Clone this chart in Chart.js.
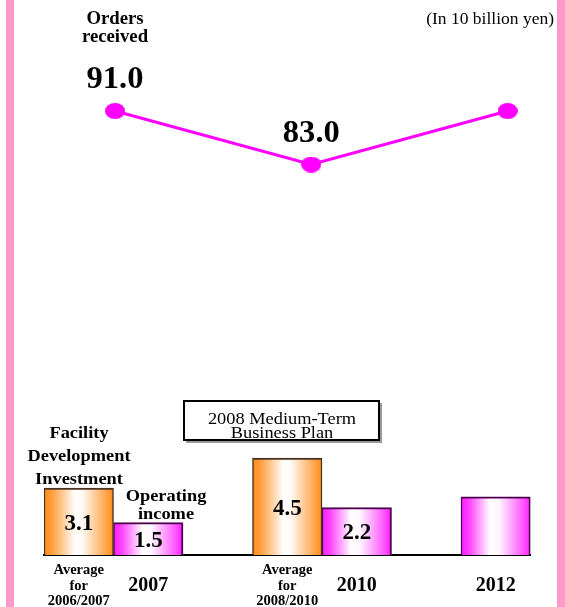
<!DOCTYPE html>
<html>
<head>
<meta charset="utf-8">
<title>Orders received / Facility Development Investment / Operating income</title>
<script src="https://cdn.jsdelivr.net/npm/chart.js"></script>
<style>
  html, body { margin: 0; padding: 0; background: #fff; }
  #wrap { position: relative; width: 565px; height: 607px; }
</style>
</head>
<body>
<div id="wrap"><canvas id="plan"></canvas></div>
<script>
// Orders received (in 10 billion yen): 2007, 2010, 2012
const orderPoints = [0, 1, 2];
const orderValues = [91.0, 83.0, 91.0];
const orderShowValue = [true, true, false];

// Bottom axis slots; the empty strings are spacers between periods
const slotLabels = [['Average', 'for', '2006/2007'], '2007', '', ['Average', 'for', '2008/2010'], '2010', '', '2012'];
const facilityValues = [3.1, null, null, 4.5, null, null, null];
const incomeValues = [null, 1.5, null, null, 2.2, null, 2.7];
const incomeShowValue = [false, true, false, false, true, false, false];

const SERIF = "'Liberation Serif', 'Times New Roman', serif";

// horizontal "cylinder" shading for the bars
function barFill(stops) {
    return ctx => {
        const chart = ctx.chart;
        const xs = chart.scales.x;
        if (!chart.chartArea || !xs || ctx.type !== 'data') return stops[0][1];
        const cx = xs.getPixelForValue(ctx.dataIndex);
        const half = (xs.getPixelForValue(1) - xs.getPixelForValue(0)) / 2;
        const g = chart.ctx.createLinearGradient(cx - half, 0, cx + half, 0);
        stops.forEach(([o, c]) => g.addColorStop(o, c));
        return g;
    };
}

// oval marker for the orders line
function ovalMarker(w, h, color) {
    const cv = document.createElement('canvas');
    cv.width = w;
    cv.height = h;
    const c = cv.getContext('2d');
    c.fillStyle = color;
    c.beginPath();
    c.ellipse(w / 2, h / 2, w / 2, h / 2, 0, 0, Math.PI * 2);
    c.fill();
    return cv;
}

// slightly widened text, like the original artwork
function wideText(c, text, x, y, sx) {
    c.save();
    c.translate(x, y);
    c.scale(sx, 1);
    c.fillText(text, 0, 0);
    c.restore();
}

const valueLabels = {
    id: 'valueLabels',
    afterDatasetsDraw(chart) {
        const c = chart.ctx;
        c.save();
        c.fillStyle = '#000';
        c.textAlign = 'center';
        c.textBaseline = 'alphabetic';

        c.font = `bold 31px ${SERIF}`;
        chart.getDatasetMeta(2).data.forEach((pt, i) => {
            if (orderShowValue[i]) wideText(c, orderValues[i].toFixed(1), pt.x, pt.y - 23, 1.05);
        });

        c.font = `bold 23px ${SERIF}`;
        [[0, facilityValues, null], [1, incomeValues, incomeShowValue]].forEach(([idx, vals, show]) => {
            chart.getDatasetMeta(idx).data.forEach((bar, i) => {
                if (vals[i] == null || (show && !show[i])) return;
                c.fillText(vals[i].toFixed(1), bar.x, (bar.y + bar.base) / 2 + 8);
            });
        });
        c.restore();
    }
};

const decorations = {
    id: 'decorations',
    beforeDraw(chart) {
        const c = chart.ctx;
        c.save();
        c.fillStyle = '#ff99cc';
        c.fillRect(6, 0, 8, chart.height);
        c.fillRect(557, 0, 8, chart.height);
        c.restore();
    },
    afterDraw(chart) {
        const c = chart.ctx;
        c.save();
        c.fillStyle = '#000';
        c.textAlign = 'center';

        c.font = `bold 18px ${SERIF}`;
        const first = chart.getDatasetMeta(2).data[0];
        wideText(c, 'Orders', first.x, 24, 1.04);
        wideText(c, 'received', first.x, 42, 1.04);

        c.font = `bold 17.5px ${SERIF}`;
        wideText(c, 'Facility', 79, 438, 1.05);
        wideText(c, 'Development', 79, 461, 1.05);
        wideText(c, 'Investment', 79, 483.5, 1.05);
        wideText(c, 'Operating', 166, 500.5, 1.05);
        wideText(c, 'income', 166, 519, 1.05);

        c.textAlign = 'right';
        c.font = `17.5px ${SERIF}`;
        c.fillText('(In 10 billion yen)', 554, 24);

        // plan caption box
        c.fillStyle = '#999';
        c.fillRect(186, 403, 196, 40);
        c.fillStyle = '#fff';
        c.fillRect(184, 401, 195, 39);
        c.strokeStyle = '#000';
        c.lineWidth = 2;
        c.strokeRect(184, 401, 195, 39);
        c.fillStyle = '#000';
        c.textAlign = 'center';
        c.font = `17.5px ${SERIF}`;
        wideText(c, '2008 Medium-Term', 282, 424, 1.05);
        wideText(c, 'Business Plan', 282, 437.5, 1.05);
        c.restore();
    }
};

new Chart(document.getElementById('plan'), {
    type: 'bar',
    data: {
        labels: slotLabels,
        datasets: [{
            label: 'Facility Development Investment',
            data: facilityValues,
            backgroundColor: barFill([[0, '#ff8c1a'], [0.12, '#ffa040'], [0.45, '#ffffff'], [0.55, '#fffaf5'], [0.88, '#ffa850'], [1, '#ff8c1a']]),
            borderColor: '#4a3320',
            borderWidth: { top: 2, left: 1.5, right: 1.5, bottom: 0 },
            borderSkipped: false,
            grouped: false,
            categoryPercentage: 1,
            barPercentage: 1,
            xAxisID: 'x',
            yAxisID: 'y'
        }, {
            label: 'Operating income',
            data: incomeValues,
            backgroundColor: barFill([[0, '#ff1aff'], [0.12, '#ff44ff'], [0.42, '#ffffff'], [0.55, '#fff5ff'], [0.9, '#ff55ff'], [1, '#ff1aff']]),
            borderColor: '#4d004d',
            borderWidth: { top: 2, left: 1.5, right: 2, bottom: 0 },
            borderSkipped: false,
            grouped: false,
            categoryPercentage: 1,
            barPercentage: 1,
            xAxisID: 'x',
            yAxisID: 'y'
        }, {
            type: 'line',
            label: 'Orders received',
            data: orderPoints.map((p, i) => ({ x: p, y: orderValues[i] })),
            borderColor: '#ff00ff',
            borderWidth: 3,
            tension: 0,
            pointStyle: ovalMarker(20, 16, '#ff00ff'),
            clip: false,
            xAxisID: 'x2',
            yAxisID: 'y2'
        }]
    },
    options: {
        responsive: true,
        maintainAspectRatio: false,
        animation: false,
        layout: { autoPadding: false, padding: { top: 0, left: 44, right: 34.5, bottom: 0 } },
        plugins: {
            legend: { display: false },
            tooltip: { enabled: false }
        },
        scales: {
            x: {
                type: 'category',
                offset: true,
                grid: { display: false, drawTicks: false },
                border: { display: true, color: '#000', width: 2 },
                ticks: {
                    autoSkip: false,
                    maxRotation: 0,
                    padding: 8,
                    color: '#000',
                    font: ctx => Array.isArray(slotLabels[ctx.index])
                        ? { family: SERIF, size: 14.5, weight: 'bold', lineHeight: 1.05 }
                        : { family: SERIF, size: 20, weight: 'bold', lineHeight: 2.25 }
                },
                afterFit: s => { s.height = 52; }
            },
            y: { display: false, min: 0, max: 25.75 },
            x2: { type: 'linear', display: false, offset: false, min: -0.3617, max: 2.1166 },
            y2: { display: false, min: 24.61, max: 107.6 }
        }
    },
    plugins: [valueLabels, decorations]
});
</script>
</body>
</html>
